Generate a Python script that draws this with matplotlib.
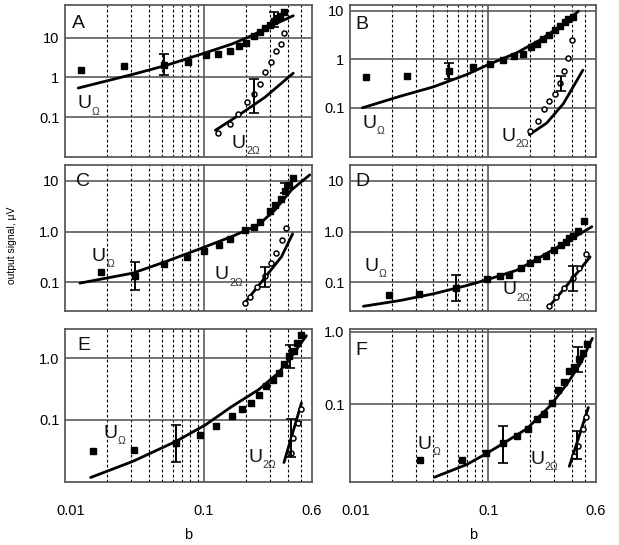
import matplotlib
matplotlib.use("Agg")
import matplotlib.pyplot as plt
import matplotlib.transforms as mtransforms
import numpy as np

plt.rcParams['font.family'] = ['Liberation Sans', 'DejaVu Sans']

# ---------------- data ----------------
# Panel A
a_sq_x = [0.013, 0.0264, 0.0518, 0.0773, 0.103, 0.126, 0.153, 0.178, 0.2, 0.228, 0.254, 0.276, 0.3, 0.32, 0.334, 0.353, 0.377]
a_sq_y = [1.55, 1.88, 2.08, 2.37, 3.69, 3.9, 4.73, 6.3, 7.4, 11.2, 14.1, 17.5, 21.1, 26.6, 31, 34, 45]
a_l1_x = [0.01245, 0.0307, 0.0533, 0.097, 0.159, 0.221, 0.307, 0.44]
a_l1_y = [0.54, 1.19, 2.0, 3.9, 6.9, 11.2, 20, 35.5]
a_ci_x = [0.126, 0.153, 0.176, 0.204, 0.229, 0.254, 0.276, 0.305, 0.33, 0.357, 0.377]
a_ci_y = [0.039, 0.067, 0.119, 0.241, 0.39, 0.695, 1.36, 2.41, 4.55, 6.95, 13.1]
a_l2_x = [0.121, 0.178, 0.276, 0.44]
a_l2_y = [0.047, 0.112, 0.32, 1.28]
a_eb_x = [0.0518, 0.32, 0.229]
a_eb_lo = [1.12, 18, 0.128]
a_eb_hi = [3.9, 43, 0.93]

# Panel B
b_sq_x = [0.013, 0.026, 0.0517, 0.077, 0.103, 0.127, 0.153, 0.177, 0.203, 0.226, 0.25, 0.276, 0.303, 0.33, 0.359, 0.379, 0.41]
b_sq_y = [0.42, 0.45, 0.57, 0.68, 0.80, 0.95, 1.14, 1.30, 1.78, 2.09, 2.6, 3.2, 3.93, 4.75, 5.75, 6.8, 7.4]
b_l1_x = [0.0123, 0.023, 0.040, 0.0698, 0.1, 0.16, 0.239, 0.33, 0.448]
b_l1_y = [0.099, 0.171, 0.267, 0.48, 0.77, 1.34, 2.52, 4.75, 9.7]
b_ci_x = [0.2, 0.228, 0.254, 0.276, 0.303, 0.33, 0.354, 0.375, 0.4]
b_ci_y = [0.0336, 0.052, 0.094, 0.139, 0.191, 0.323, 0.58, 1.06, 2.44]
b_l2_x = [0.198, 0.264, 0.349, 0.482]
b_l2_y = [0.0277, 0.048, 0.121, 0.59]
b_eb_x = [0.0517, 0.333]
b_eb_lo = [0.39, 0.224]
b_eb_hi = [0.83, 0.457]

# Panel C
c_sq_x = [0.0183, 0.0321, 0.0512, 0.0752, 0.1, 0.128, 0.153, 0.199, 0.228, 0.254, 0.3, 0.325, 0.359, 0.383, 0.41, 0.44]
c_sq_y = [0.158, 0.13, 0.23, 0.312, 0.42, 0.546, 0.72, 1.08, 1.22, 1.53, 2.56, 3.37, 4.37, 6.36, 8.36, 11.3]
c_l1_x = [0.0128, 0.0307, 0.0533, 0.092, 0.159, 0.247, 0.325, 0.427, 0.578]
c_l1_y = [0.096, 0.151, 0.256, 0.449, 0.80, 1.36, 2.68, 6.66, 13.2]
c_ci_x = [0.199, 0.215, 0.243, 0.276, 0.303, 0.33, 0.367, 0.389]
c_ci_y = [0.0386, 0.052, 0.082, 0.133, 0.238, 0.385, 0.686, 1.17]
c_l2_x = [0.196, 0.261, 0.362, 0.435]
c_l2_y = [0.0386, 0.103, 0.32, 0.90]
c_eb_x = [0.0321, 0.385, 0.276]
c_eb_lo = [0.0707, 5.7, 0.082]
c_eb_hi = [0.256, 9.3, 0.198]

# Panel D
d_sq_x = [0.0191, 0.0317, 0.0584, 0.098, 0.122, 0.142, 0.171, 0.2, 0.226, 0.26, 0.299, 0.336, 0.363, 0.386, 0.412, 0.448, 0.495]
d_sq_y = [0.0547, 0.059, 0.0764, 0.114, 0.132, 0.141, 0.19, 0.24, 0.293, 0.326, 0.443, 0.54, 0.627, 0.733, 0.814, 1.04, 1.64]
d_l1_x = [0.0125, 0.023, 0.040, 0.0698, 0.1, 0.16, 0.239, 0.349, 0.56]
d_l1_y = [0.0335, 0.0435, 0.059, 0.086, 0.114, 0.172, 0.316, 0.58, 1.25]
d_ci_x = [0.276, 0.309, 0.353, 0.407, 0.455, 0.506]
d_ci_y = [0.0335, 0.052, 0.076, 0.123, 0.194, 0.357]
d_l2_x = [0.272, 0.369, 0.544]
d_l2_y = [0.032, 0.086, 0.316]
d_eb_x = [0.0584, 0.412]
d_eb_lo = [0.0435, 0.0665]
d_eb_hi = [0.137, 0.206]

# Panel E
e_sq_x = [0.0158, 0.0316, 0.0634, 0.0936, 0.123, 0.158, 0.188, 0.218, 0.251, 0.281, 0.313, 0.349, 0.377, 0.41, 0.447, 0.469, 0.504]
e_sq_y = [0.0307, 0.0327, 0.0419, 0.0571, 0.078, 0.116, 0.152, 0.187, 0.248, 0.347, 0.434, 0.571, 0.80, 1.09, 1.28, 1.75, 2.36]
e_l1_x = [0.0153, 0.0307, 0.0628, 0.103, 0.159, 0.247, 0.343, 0.427, 0.547]
e_l1_y = [0.0116, 0.0211, 0.0445, 0.083, 0.164, 0.306, 0.571, 1.06, 2.3]
e_ci_x = [0.423, 0.44, 0.477, 0.496]
e_ci_y = [0.0289, 0.0505, 0.0885, 0.149]
e_l2_x = [0.377, 0.504]
e_l2_y = [0.0203, 0.187]
e_eb_x = [0.0634, 0.415, 0.423]
e_eb_lo = [0.0203, 0.689, 0.0248]
e_eb_hi = [0.083, 1.64, 0.1026]

# Panel F
f_sq_x = [0.0321, 0.0642, 0.0957, 0.128, 0.16, 0.193, 0.224, 0.253, 0.287, 0.321, 0.353, 0.385, 0.419, 0.453, 0.481, 0.52]
f_sq_y = [0.0173, 0.0173, 0.021, 0.0295, 0.0365, 0.0461, 0.062, 0.0743, 0.105, 0.158, 0.2, 0.289, 0.328, 0.42, 0.507, 0.676]
f_l1_x = [0.0407, 0.0698, 0.097, 0.128, 0.19, 0.279, 0.369, 0.46, 0.565]
f_l1_y = [0.00987, 0.0148, 0.021, 0.0289, 0.0461, 0.0948, 0.189, 0.357, 0.81]
f_ci_x = [0.417, 0.448, 0.481, 0.508]
f_ci_y = [0.0193, 0.0265, 0.0461, 0.0676]
f_l2_x = [0.385, 0.528]
f_l2_y = [0.014, 0.09]
f_eb_x = [0.128, 0.448, 0.436]
f_eb_lo = [0.0156, 0.283, 0.0177]
f_eb_hi = [0.051, 0.62, 0.0428]

panel_letters = ['A', 'B', 'C', 'D', 'E', 'F']
ylims = [(0.01, 66), (0.0096, 13), (0.027, 20.7), (0.027, 20.7), (0.0098, 2.95), (0.0085, 1.09)]
ytick_vals = [[0.1, 1, 10], [0.1, 1, 10], [0.1, 1, 10], [0.1, 1, 10], [0.1, 1], [0.1, 1]]
ytick_labels = [['0.1', '1', '10'], ['0.1', '1', '10'], ['0.1', '1.0', '10'], ['0.1', '1.0', '10'],
                ['0.1', '1.0'], ['0.1', '1.0']]
xtick_vals = [0.01, 0.1, 0.6]
xtick_labels = ['0.01', '0.1', '0.6']
minor_x = [0.02, 0.03, 0.04, 0.05, 0.06, 0.07, 0.08, 0.09, 0.2, 0.3, 0.4, 0.5]

# label positions (axes fraction)
letter_pos = [(0.028, 0.875), (0.02, 0.87), (0.045, 0.887), (0.02, 0.887), (0.049, 0.895), (0.02, 0.86)]
u1_pos = [(0.049, 0.349), (0.049, 0.22), (0.109, 0.373), (0.057, 0.305), (0.154, 0.317), (0.276, 0.243)]
u2_pos = [(0.676, 0.089), (0.614, 0.135), (0.607, 0.247), (0.618, 0.144), (0.741, 0.16), (0.732, 0.145)]

panels = [
    (a_sq_x, a_sq_y, a_l1_x, a_l1_y, a_ci_x, a_ci_y, a_l2_x, a_l2_y, a_eb_x, a_eb_lo, a_eb_hi),
    (b_sq_x, b_sq_y, b_l1_x, b_l1_y, b_ci_x, b_ci_y, b_l2_x, b_l2_y, b_eb_x, b_eb_lo, b_eb_hi),
    (c_sq_x, c_sq_y, c_l1_x, c_l1_y, c_ci_x, c_ci_y, c_l2_x, c_l2_y, c_eb_x, c_eb_lo, c_eb_hi),
    (d_sq_x, d_sq_y, d_l1_x, d_l1_y, d_ci_x, d_ci_y, d_l2_x, d_l2_y, d_eb_x, d_eb_lo, d_eb_hi),
    (e_sq_x, e_sq_y, e_l1_x, e_l1_y, e_ci_x, e_ci_y, e_l2_x, e_l2_y, e_eb_x, e_eb_lo, e_eb_hi),
    (f_sq_x, f_sq_y, f_l1_x, f_l1_y, f_ci_x, f_ci_y, f_l2_x, f_l2_y, f_eb_x, f_eb_lo, f_eb_hi),
]

# ---------------- layout ----------------
W, H = 619, 545
fig = plt.figure(figsize=(W / 100, H / 100), dpi=100)
cols = [(65, 312), (350, 596)]
rows = [(5, 157), (165, 311), (329, 482)]

frame_col = '#5a5a5a'


def u_label(ax, pos, sub):
    ax.text(pos[0], pos[1], 'U', transform=ax.transAxes, fontsize=14,
            ha='left', va='center', zorder=6, color='#111111')
    ax.annotate(sub, xy=pos, xycoords='axes fraction', xytext=(10.5, -5.5),
                textcoords='offset points', fontsize=7.5, ha='left', va='center',
                color='#333333', zorder=6)


for i, p in enumerate(panels):
    r, c = divmod(i, 2)
    x0, x1 = cols[c]
    y0, y1 = rows[r]
    ax = fig.add_axes([x0 / W, 1 - y1 / H, (x1 - x0) / W, (y1 - y0) / H])
    ax.set_xscale('log')
    ax.set_yscale('log')
    ax.set_xlim(0.01, 0.6)
    ax.set_ylim(*ylims[i])
    sqx, sqy, l1x, l1y, cix, ciy, l2x, l2y, ebx, eblo, ebhi = p

    # grid
    for xv in minor_x:
        ax.axvline(xv, color='black', lw=0.8, ls=(0, (2.5, 2)), zorder=1)
    ax.axvline(0.1, color=frame_col, lw=1.2, zorder=1)
    for yv in ytick_vals[i]:
        ax.axhline(yv, color=frame_col, lw=1.2, zorder=1)

    ax.plot(l1x, l1y, color='black', lw=2.0, zorder=3, solid_capstyle='round',
            solid_joinstyle='round')
    ax.plot(l2x, l2y, color='black', lw=2.0, zorder=3, solid_capstyle='round',
            solid_joinstyle='round')
    ax.plot(sqx, sqy, ls='none', marker='s', ms=5, mfc='black', mec='black', zorder=4)
    ax.plot(cix, ciy, ls='none', marker='o', ms=3.6, mfc='white', mec='black', mew=1.1, zorder=4)
    ebx_a = np.array(ebx)
    lo = np.array(eblo)
    hi = np.array(ebhi)
    mid = np.sqrt(lo * hi)
    ax.errorbar(ebx_a, mid, yerr=[mid - lo, hi - mid], fmt='none', ecolor='black',
                elinewidth=1.4, capsize=3.8, capthick=1.2, zorder=5)

    ax.set_yticks(ytick_vals[i])
    ax.set_yticklabels(ytick_labels[i])
    ax.yaxis.set_minor_locator(matplotlib.ticker.NullLocator())
    ax.xaxis.set_minor_locator(matplotlib.ticker.NullLocator())
    ax.tick_params(axis='both', length=0, labelsize=10.5, pad=4)
    if r == 2:
        ax.set_xticks(xtick_vals)
        ax.set_xticklabels(xtick_labels)
        ax.tick_params(axis='x', pad=16)
        lbls = ax.get_xticklabels()
        lbls[0].set_transform(lbls[0].get_transform() +
                              mtransforms.ScaledTranslation(6 / 100, 0, fig.dpi_scale_trans))
        ax.set_xlabel('b', fontsize=10.5, labelpad=7)
    else:
        ax.set_xticks(xtick_vals)
        ax.set_xticklabels([])
    for s in ax.spines.values():
        s.set_color(frame_col)
        s.set_linewidth(1.3)

    ax.text(*letter_pos[i], panel_letters[i], transform=ax.transAxes, fontsize=14,
            ha='left', va='center', zorder=6, color='#111111')
    u_label(ax, u1_pos[i], '\u03a9')
    u_label(ax, u2_pos[i], '2\u03a9')

fig.text(12 / W, 1 - 245 / H, 'output signal, \u03bcV', rotation=90, fontsize=7.5,
         ha='center', va='center')

fig.savefig('out.png', dpi=100)
